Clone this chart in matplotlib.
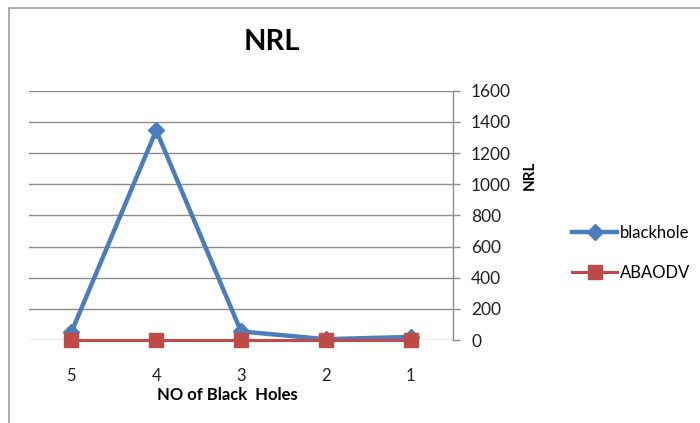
import matplotlib
matplotlib.use("Agg")
import matplotlib.pyplot as plt
from matplotlib.patches import Rectangle

plt.rcParams['font.family'] = ['Lato', 'DejaVu Sans']

# Data
categories = ['5', '4', '3', '2', '1']
blackhole = [50, 1345, 55, 5, 20]
abaodv = [2, 2, 2, 2, 2]

BLUE = '#4A7EBB'
RED = '#BE4B48'
GRID = '#8C8C8C'

fig = plt.figure(figsize=(7.0, 4.23), dpi=100)
fig.patch.set_facecolor('white')

# outer chart frame
fig.add_artist(Rectangle((9 / 700, -0.1), 1.2, 1 - 8 / 423 + 0.1,
                         transform=fig.transFigure, fill=False,
                         edgecolor='#A6A6A6', linewidth=1.3))

ax = fig.add_axes([29 / 700, 1 - 340 / 423, (453 - 29) / 700, (340 - 90.7) / 423])
x = list(range(len(categories)))

ax.plot(x, blackhole, color=BLUE, linewidth=3.2, marker='D', markersize=8.5,
        markerfacecolor=BLUE, markeredgecolor=BLUE, zorder=3, clip_on=False,
        label='blackhole')
ax.plot(x, abaodv, color=RED, linewidth=2.2, marker='s', markersize=10.5,
        markerfacecolor=RED, markeredgecolor=RED, zorder=4, clip_on=False,
        label='ABAODV')

ax.set_xlim(-0.5, len(categories) - 0.5)
ax.set_ylim(0, 1600)
ax.set_yticks(range(0, 1601, 200))
ax.set_xticks(x)
ax.set_xticklabels(categories)

ax.yaxis.tick_right()
ax.yaxis.set_label_position('right')
ax.grid(axis='y', color=GRID, linewidth=1.0)
ax.set_axisbelow(True)

for s in ['top', 'left', 'bottom']:
    ax.spines[s].set_visible(False)
ax.spines['right'].set_color(GRID)
ax.spines['right'].set_linewidth(1.0)

ax.tick_params(axis='y', length=5, color=GRID, width=1.0, pad=8, labelsize=12.5,
               labelcolor='#222222')
ax.tick_params(axis='x', length=0, pad=20, labelsize=12, labelcolor='#222222')

ax.set_xlabel('NO of Black  Holes', fontsize=12, fontweight='bold')
ax.xaxis.set_label_coords((227 - 29) / 424, -(395 - 340) / 249.3)
ax.xaxis.label.set_va('center')
ax.set_ylabel('NRL', fontsize=11, fontweight='bold')
ax.yaxis.set_label_coords((530 - 29) / 424, (340 - 175) / 249.3)
ax.yaxis.label.set_va('center')

fig.text(271.5 / 700, 1 - 42 / 423, 'NRL', ha='center', va='center',
         fontsize=21, fontweight='bold')

fig.legend(loc='center left', bbox_to_anchor=(572 / 700, 1 - 253 / 423),
           frameon=False, fontsize=12, handlelength=2.7, handletextpad=0.2,
           labelspacing=1.45, borderpad=0, borderaxespad=0)

fig.savefig('out.png', dpi=100, facecolor='white')
